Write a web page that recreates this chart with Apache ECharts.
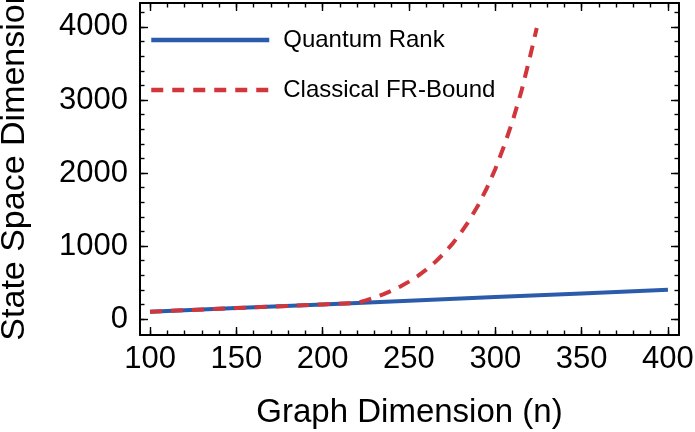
<!DOCTYPE html>
<html><head><meta charset="utf-8">
<script src="https://cdn.jsdelivr.net/npm/echarts@6/dist/echarts.min.js"></script>
<style>html,body{margin:0;padding:0;background:#fff}#c{width:695px;height:432px}</style>
</head><body><div id="c"></div>
<script>
// ---- data ----
const xTicks = [100, 150, 200, 250, 300, 350, 400];
const xMinorTicks = [100,110,120,130,140,150,160,170,180,190,200,210,220,230,240,250,260,270,280,290,300,310,320,330,340,350,360,370,380,390,400];
const yTicks = [0, 1000, 2000, 3000, 4000];
const yMinorTicks = [0,200,400,600,800,1000,1200,1400,1600,1800,2000,2200,2400,2600,2800,3000,3200,3400,3600,3800,4000,4200];
const xRange = [94.2, 406.4];
const yRange = [-219, 4328];
const seriesNames = ['Quantum Rank', 'Classical FR-Bound'];
const quantumRank = [[100,100],[150,150],[200,200],[250,250],[300,300],[350,350],[400,400]];
const classicalFR = [[100,100],[150,150],[200,200],[220,220],[225,255],[230,293],[235,337],[240,388],[245,446],[250,512],[255,588],[260,675],[265,776],[270,892],[275,1025],[280,1178],[285,1353],[290,1555],[295,1787],[300,2055],[305,2365],[310,2710],[315,3110],[320,3580],[324,3985]];

const FONT = '"Liberation Sans", Arial, Helvetica, sans-serif';
const chart = echarts.init(document.getElementById('c'), null, {renderer: 'canvas'});
const plain = v => String(v);

function xAx(pos, ticks, len, withLine, withLabel) {
  const a = {
    type: 'value', position: pos, min: xRange[0], max: xRange[1],
    axisLine: {show: withLine, onZero: false, lineStyle: {color: '#000', width: 2}},
    axisTick: {show: true, inside: true, length: len, customValues: ticks, lineStyle: {color: '#000', width: 1.4}},
    axisLabel: {show: withLabel, customValues: xTicks, formatter: plain, color: '#000', fontSize: 31, fontFamily: FONT, margin: 9},
    splitLine: {show: false}
  };
  if (withLabel) {
    a.name = 'Graph Dimension (n)';
    a.nameLocation = 'middle';
    a.nameGap = 61;
    a.nameTextStyle = {color: '#000', fontSize: 33, fontFamily: FONT};
  }
  return a;
}
function yAx(pos, ticks, len, withLine, withLabel) {
  const a = {
    type: 'value', position: pos, min: yRange[0], max: yRange[1],
    axisLine: {show: withLine, onZero: false, lineStyle: {color: '#000', width: 2}},
    axisTick: {show: true, inside: true, length: len, customValues: ticks, lineStyle: {color: '#000', width: 1.4}},
    axisLabel: {show: withLabel, customValues: yTicks, formatter: plain, color: '#000', fontSize: 31, fontFamily: FONT, margin: 12},
    splitLine: {show: false}
  };
  if (withLabel) {
    a.name = 'State Space Dimension';
    a.nameLocation = 'middle';
    a.nameGap = 108;
    a.nameRotate = 90;
    a.nameTextStyle = {color: '#000', fontSize: 34, fontFamily: FONT, padding: [0, 0, 0, 12]};
  }
  return a;
}

chart.setOption({
  animation: false,
  backgroundColor: '#fff',
  textStyle: {fontFamily: FONT},
  grid: {left: 140, right: 16, top: 3, bottom: 97, containLabel: false, outerBoundsMode: 'none'},
  legend: {
    orient: 'vertical', left: 144, top: 23,
    itemWidth: 118, itemHeight: 26, itemGap: 26,
    data: seriesNames,
    textStyle: {color: '#000', fontSize: 24, fontFamily: FONT, padding: [6, 0, 0, 9]},
    lineStyle: {width: 4.5},
    itemStyle: {opacity: 0, borderWidth: 0}
  },
  xAxis: [
    xAx('bottom', xTicks, 8, true, true),
    xAx('bottom', xMinorTicks, 4.5, false, false),
    xAx('top', xTicks, 8, true, false),
    xAx('top', xMinorTicks, 4.5, false, false)
  ],
  yAxis: [
    yAx('left', yTicks, 8, true, true),
    yAx('left', yMinorTicks, 4.5, false, false),
    yAx('right', yTicks, 8, true, false),
    yAx('right', yMinorTicks, 4.5, false, false)
  ],
  series: [
    {name: seriesNames[0], type: 'line', data: quantumRank, symbol: 'none', xAxisIndex: 0, yAxisIndex: 0,
     lineStyle: {color: '#2b5cab', width: 4}, itemStyle: {color: '#2b5cab'}, z: 2},
    {name: seriesNames[1], type: 'line', data: classicalFR, symbol: 'none', xAxisIndex: 0, yAxisIndex: 0,
     lineStyle: {color: '#d0363b', width: 4, type: [12, 9]}, itemStyle: {color: '#d0363b'}, z: 3}
  ]
});
</script></body></html>
